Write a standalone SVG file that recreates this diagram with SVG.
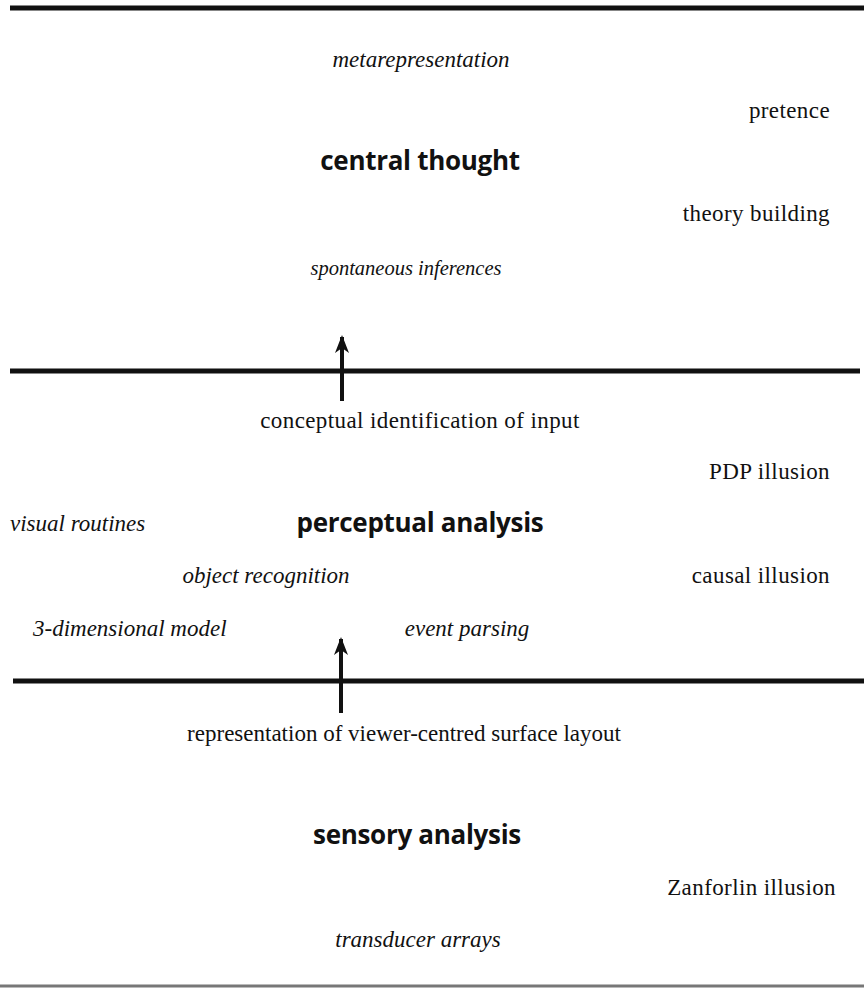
<svg xmlns="http://www.w3.org/2000/svg" width="864" height="992" viewBox="0 0 864 992">
<style>
.s{font-family:"Liberation Serif","Times New Roman",serif;font-size:23px;letter-spacing:0.4px;fill:#111}
.i{font-family:"Liberation Serif","Times New Roman",serif;font-size:23px;font-style:italic;fill:#111}
.h{font-family:"Open Sans","Noto Sans",sans-serif;font-size:26px;font-weight:bold;letter-spacing:-0.3px;fill:#111}
.ln{stroke:#111;stroke-width:5;fill:none}
.ar{stroke:#111;stroke-width:4;fill:none}
</style>
<defs>
<marker id="ah" viewBox="0 0 18 14" refX="16" refY="7" markerWidth="18" markerHeight="14" markerUnits="userSpaceOnUse" orient="auto">
<path d="M0,0 L18,7 L0,14 L5,7 Z" fill="#111"/>
</marker>
</defs>
<rect width="864" height="992" fill="#fff"/>
<g id="layers">
<line class="ln" x1="10" y1="8" x2="864" y2="8"/>
<line class="ln" x1="10" y1="371" x2="860" y2="371"/>
<line class="ln" x1="13" y1="681" x2="864" y2="681"/>
<line x1="0" y1="986" x2="864" y2="986" stroke="#777" stroke-width="3"/>
</g>
<g id="connectors">
<line class="ar" x1="342" y1="401" x2="342" y2="337" marker-end="url(#ah)"/>
<line class="ar" x1="341" y1="713" x2="341" y2="639" marker-end="url(#ah)"/>
</g>
<g id="central">
<text class="i" x="421" y="67" text-anchor="middle">metarepresentation</text>
<text class="s" x="830" y="118" text-anchor="end">pretence</text>
<text class="h" x="420" y="170" text-anchor="middle">central thought</text>
<text class="s" x="830" y="221" text-anchor="end">theory building</text>
<text class="i" x="406" y="275" text-anchor="middle" style="font-size:20.5px">spontaneous inferences</text>
</g>
<g id="perceptual">
<text class="s" x="420" y="428" text-anchor="middle">conceptual identification of input</text>
<text class="s" x="830" y="479" text-anchor="end">PDP illusion</text>
<text class="i" x="10" y="531">visual routines</text>
<text class="h" x="420" y="532" text-anchor="middle">perceptual analysis</text>
<text class="i" x="266" y="583" text-anchor="middle">object recognition</text>
<text class="s" x="830" y="583" text-anchor="end">causal illusion</text>
<text class="i" x="33" y="636">3-dimensional model</text>
<text class="i" x="467" y="636" text-anchor="middle">event parsing</text>
</g>
<g id="sensory">
<text class="s" x="404" y="741" text-anchor="middle" style="letter-spacing:0">representation of viewer-centred surface layout</text>
<text class="h" x="417" y="844" text-anchor="middle">sensory analysis</text>
<text class="s" x="836" y="895" text-anchor="end">Zanforlin illusion</text>
<text class="i" x="418" y="947" text-anchor="middle">transducer arrays</text>
</g>
</svg>
